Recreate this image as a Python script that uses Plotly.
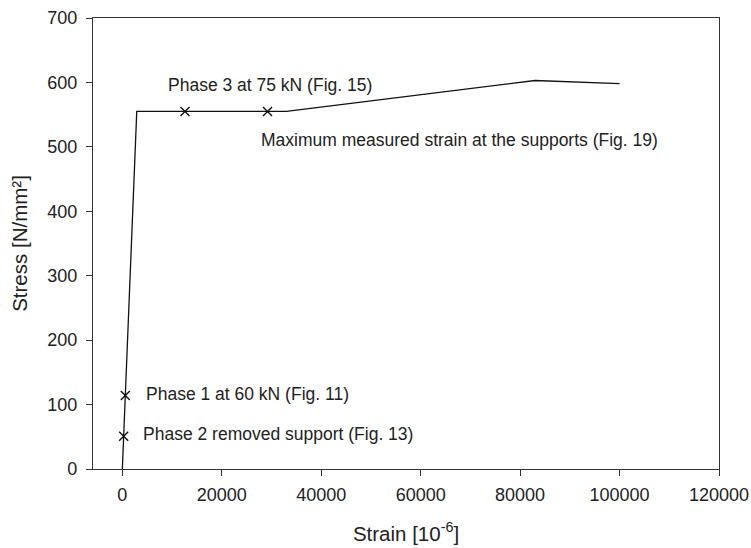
import plotly.graph_objects as go

# Stress-strain curve of the steel
strain = [0, 2900, 12600, 29200, 33000, 83000, 100000]
stress = [0, 555, 555, 555, 555, 603, 598]

# Marked states
mark_strain = [600, 270, 12600, 29200]
mark_stress = [114, 51, 555, 555]

# Labels for the marked states
label_text = [
    "Phase 3 at 75 kN (Fig. 15)",
    "Maximum measured strain at the supports (Fig. 19)",
    "Phase 1 at 60 kN (Fig. 11)",
    "Phase 2 removed support (Fig. 13)",
]
label_x = [8800, 27400, 4300, 3800]
label_y = [596, 510, 117, 55]

x_ticks = [0, 20000, 40000, 60000, 80000, 100000, 120000]
x_tick_text = ["0", "20000", "40000", "60000", "80000", "100000", "120000"]
y_ticks = [0, 100, 200, 300, 400, 500, 600, 700]

font_family = "Liberation Sans, Arial, sans-serif"

fig = go.Figure()
fig.add_trace(go.Scatter(
    x=strain, y=stress, mode="lines",
    line=dict(color="#111", width=1.3),
    showlegend=False, hoverinfo="skip",
))
fig.add_trace(go.Scatter(
    x=mark_strain, y=mark_stress, mode="markers",
    marker=dict(symbol="x-thin", size=9, line=dict(color="#111", width=1.4)),
    showlegend=False,
))

for t, x, y in zip(label_text, label_x, label_y):
    fig.add_annotation(
        x=x, y=y, text=t, showarrow=False,
        xanchor="left", yanchor="middle",
        font=dict(family=font_family, size=17.5, color="#222"),
    )

axis_common = dict(
    showgrid=False, zeroline=False, automargin=False,
    showline=True, linecolor="#333", linewidth=1.2, mirror=True,
    ticks="outside", ticklen=6, tickwidth=1.2, tickcolor="#333",
    tickfont=dict(family=font_family, size=18, color="#222"),
)

fig.update_xaxes(
    range=[-5900, 120000], tickvals=x_ticks, ticktext=x_tick_text,
    title=dict(text="Strain [10<sup>-6</sup>]", standoff=22,
               font=dict(family=font_family, size=20.5, color="#222")),
    ticklabelstandoff=3,
    **axis_common,
)
fig.update_yaxes(
    range=[0, 700], tickvals=y_ticks,
    title=dict(text="Stress [N/mm²]", standoff=14,
               font=dict(family=font_family, size=20.5, color="#222")),
    ticklabelstandoff=5,
    **axis_common,
)

fig.update_layout(
    width=751, height=548,
    margin=dict(l=93, r=32, t=18, b=79),
    plot_bgcolor="white", paper_bgcolor="white",
)

fig.write_html("out.html")
